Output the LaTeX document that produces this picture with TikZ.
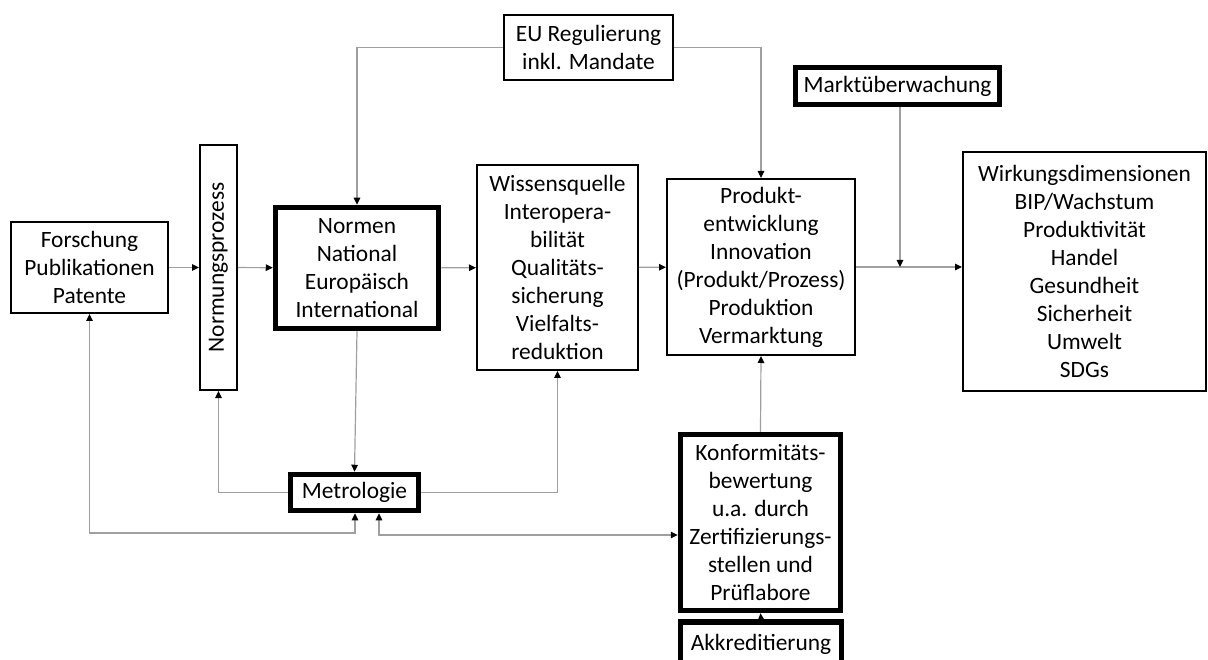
\documentclass[tikz,border=0pt]{standalone}
\usepackage{fontspec}
\setmainfont{Carlito}
\usetikzlibrary{arrows.meta}
\tikzset{
  box/.style={draw=black, line width=2pt, fill=white, align=center, inner sep=0pt,
    font=\fontsize{23.4}{28}\selectfont},
  thickbox/.style={box, line width=5.5pt},
  conn/.style={draw=gray!75, line width=1.2pt, -{Triangle[length=7pt,width=6.5pt,color=black]}},
  biconn/.style={draw=gray!75, line width=1.2pt, {Triangle[length=7pt,width=6.5pt,color=black]}-{Triangle[length=7pt,width=6.5pt,color=black]}},
}
\begin{document}
\begin{tikzpicture}[x=1pt,y=-1pt]
\useasboundingbox (0,0) rectangle (1208,660);
\node[box, minimum width=157pt, minimum height=91pt] (fo) at (89.5,267.5) {Forschung\\Publikationen\\Patente};
\node[box, minimum width=37pt, minimum height=245pt] (np) at (218.5,267.5) {};
\node[font=\fontsize{23.4}{28}\selectfont, rotate=90] (npt) at (np.center) {Normungsprozess};
\node[thickbox, minimum width=163pt, minimum height=121pt] (no) at (357,268) {Normen\\National\\Europäisch\\International};
\node[box, minimum width=169pt, minimum height=65pt] (eu) at (588.5,47.5) {EU Regulierung\\inkl. Mandate};
\node[box, minimum width=161pt, minimum height=205pt] (wi) at (557.5,267.5) {Wissensquelle\\Interopera-\\bilität\\Qualitäts-\\sicherung\\Vielfalts-\\reduktion};
\node[box, minimum width=188pt, minimum height=176pt] (pr) at (761,267) {Produkt-\\entwicklung\\Innovation\\(Produkt/Prozess)\\Produktion\\Vermarktung};
\node[thickbox, minimum width=204pt, minimum height=37pt] (ma) at (897.5,86) {Marktüberwachung};
\node[box, minimum width=243pt, minimum height=239pt] (wd) at (1084.5,271.5) {Wirkungsdimensionen\\BIP/Wachstum\\Produktivität\\Handel\\Gesundheit\\Sicherheit\\Umwelt\\SDGs};
\node[thickbox, minimum width=128pt, minimum height=36pt] (me) at (354.5,492.5) {Metrologie};
\node[thickbox, minimum width=160pt, minimum height=176pt] (ko) at (760.5,522.5) {Konformitäts-\\bewertung\\u.a. durch\\Zertifizierungs-\\stellen und\\Prüflabore};
\node[thickbox, minimum width=161pt, minimum height=44pt] (ak) at (761,644) {Akkreditierung};
% connectors
\draw[conn] (fo) -- (np);
\draw[conn] (np) -- (no);
\draw[conn] (no) -- (wi);
\draw[conn] (wi) -- (pr);
\draw[conn] (pr.east) -- (pr.east -| wd.west);
\draw[conn] (eu.west) -| (no.north);
\draw[conn] (eu.east) -| (pr.north);
\coordinate (mj) at (900,267);
\draw[conn] (ma.south -| mj) -- (mj);
\draw[conn] (no.south) -- (me.north);
\draw[conn] (me.west) -| (np.south);
\draw[conn] (me.east) -| (wi.south);
\coordinate (c1) at (355,533);
\draw[biconn] (fo.south) |- (c1) -- (me.south -| c1);
\coordinate (c2) at (379,535);
\draw[biconn] (me.south -| c2) -- (c2) -- (c2 -| ko.west);
\draw[conn] (ko.north) -- (pr.south);
\draw[conn] (ak.north) -- (ko.south);
\end{tikzpicture}
\end{document}
